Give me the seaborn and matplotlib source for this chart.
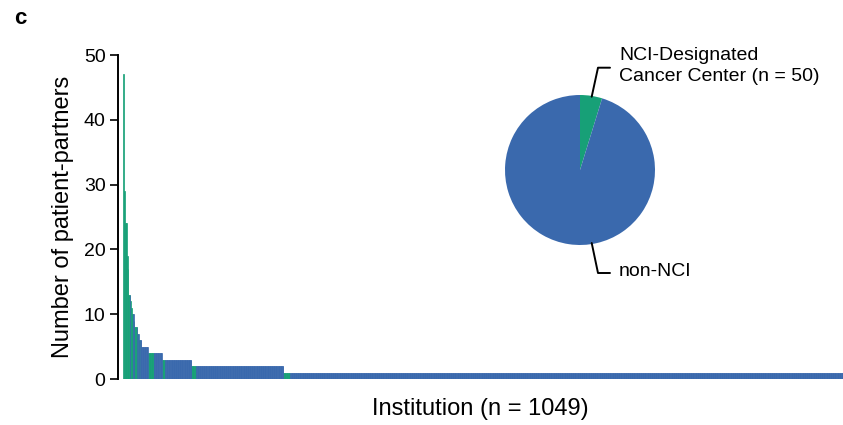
import numpy as np
import pandas as pd
import matplotlib
matplotlib.use("Agg")
import matplotlib.pyplot as plt
import seaborn as sns

# patient-partner count per institution, grouped by count level (sorted descending)
COUNT_LEVELS = [47, 29, 24, 19, 17, 13, 12, 11, 10, 9, 8, 7, 6, 5, 4, 3, 2, 1]
NCI_PER_LEVEL = [1, 1, 3, 1, 1, 2, 1, 1, 2, 1, 3, 1, 2, 0, 8, 5, 7, 10]
NON_NCI_PER_LEVEL = [0, 0, 0, 0, 0, 1, 0, 0, 1, 0, 1, 1, 2, 10, 12, 38, 127, 806]

PIE_LABELS = ["NCI-Designated\nCancer Center (n = 50)", "non-NCI"]
PIE_SIZES = [sum(NCI_PER_LEVEL), sum(NON_NCI_PER_LEVEL)]

BLUE = "#3a69ad"
GREEN = "#17a077"

rows = []
for lvl, n_nci, n_non in zip(COUNT_LEVELS, NCI_PER_LEVEL, NON_NCI_PER_LEVEL):
    rows += [{"count": lvl, "group": "NCI"}] * n_nci
    rows += [{"count": lvl, "group": "non-NCI"}] * n_non
df = pd.DataFrame(rows)
df["rank"] = np.arange(len(df))
n_inst = len(df)

sns.set_theme(style="ticks")
plt.rcParams["font.family"] = ["Liberation Sans", "DejaVu Sans"]
plt.rcParams["text.color"] = "black"
plt.rcParams["axes.labelcolor"] = "black"
plt.rcParams["ytick.color"] = "black"

fig = plt.figure(figsize=(8.43, 4.25), dpi=100)
ax = fig.add_axes([118 / 843, 46 / 425, 725 / 843, 324 / 425])

sns.barplot(
    data=df, x="rank", y="count", hue="group",
    palette={"NCI": GREEN, "non-NCI": BLUE},
    native_scale=True, dodge=False, width=1.0,
    linewidth=0.5, saturation=1, legend=False, ax=ax,
)
for p in ax.patches:
    p.set_edgecolor(p.get_facecolor())

ax.set_xlim(-8.5, n_inst - 0.5)
ax.set_ylim(0, 50)
ax.set_yticks([0, 10, 20, 30, 40, 50])
ax.set_xticks([])
ax.tick_params(axis="y", labelsize=14, length=6, width=1.2, color="black", pad=3)
ax.spines["left"].set_linewidth(1.4)
ax.spines["left"].set_color("black")
sns.despine(ax=ax, bottom=True)
ax.set_ylabel("Number of patient-partners", fontsize=17, labelpad=7)
ax.set_xlabel("Institution (n = 1049)", fontsize=17, labelpad=14)

fig.text(14 / 843, 1 - 18 / 425, "c", fontsize=16, fontweight="bold", va="center", ha="left")

# inset pie
pax = fig.add_axes([505 / 843, (425 - 245) / 425, 150 / 843, 150 / 425])
pax.pie(PIE_SIZES, colors=[GREEN, BLUE], startangle=90, counterclock=False,
        wedgeprops={"linewidth": 0})
pax.set_xlim(-1, 1)
pax.set_ylim(-1, 1)
pax.set_aspect("equal")

fig.add_artist(plt.Line2D([591.7 / 843, 598 / 843, 610 / 843],
                          [1 - 96.7 / 425, 1 - 67.7 / 425, 1 - 67.7 / 425],
                          color="black", lw=1.4, transform=fig.transFigure))
fig.add_artist(plt.Line2D([591.7 / 843, 598 / 843, 610 / 843],
                          [1 - 243 / 425, 1 - 273 / 425, 1 - 273 / 425],
                          color="black", lw=1.4, transform=fig.transFigure))
fig.text(619 / 843, 1 - 66 / 425, PIE_LABELS[0], fontsize=14, va="center", ha="left",
         linespacing=1.25)
fig.text(619 / 843, 1 - 272 / 425, PIE_LABELS[1], fontsize=14, va="center", ha="left")

fig.savefig("out.png", dpi=100)
